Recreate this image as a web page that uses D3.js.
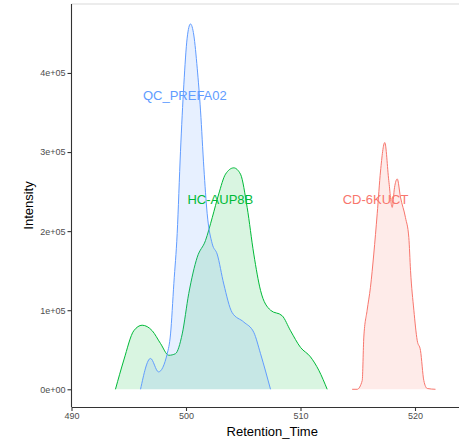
<!DOCTYPE html>
<html>
<head>
<meta charset="utf-8">
<script src="https://cdn.jsdelivr.net/npm/d3@7"></script>
<style>
  body { margin: 0; background: #fff; }
  text { font-family: "Liberation Sans", Arial, sans-serif; }
</style>
</head>
<body>
<script>
// Data (Retention_Time, Intensity)
const samples = ["CD-6KUCT", "HC-AUP8B", "QC_PREFA02"];
const colors = ["#F8766D", "#00BA38", "#619CFF"];

const cdTime = [514.51, 514.95, 515.39, 515.53, 515.82, 516.11, 516.40, 516.70, 516.99, 517.36, 517.71, 518.01, 518.21, 518.45, 518.73, 519.17, 519.46, 519.61, 519.90, 520.19, 520.48, 520.77, 521.07, 521.79];
const cdIntensity = [0, 0, 11000, 66000, 100000, 129000, 171000, 222000, 276000, 312000, 264000, 230000, 255000, 266000, 243000, 217000, 192000, 150000, 100000, 62000, 49000, 11000, 1000, 0];

const hcTime = [493.84, 494.57, 495.44, 496.17, 497.05, 497.77, 498.50, 499.08, 499.67, 500.24, 500.98, 501.70, 502.29, 502.86, 503.45, 504.17, 504.76, 505.34, 505.92, 506.51, 507.38, 508.40, 509.13, 510.00, 510.87, 511.60, 512.33];
const hcIntensity = [0, 37000, 74000, 81000, 74000, 58000, 43000, 45000, 70000, 121000, 167000, 188000, 217000, 247000, 272000, 280000, 272000, 230000, 171000, 125000, 100000, 93000, 74000, 53000, 41000, 24000, 0];

const qcTime = [496.03, 496.90, 497.60, 498.36, 498.65, 498.94, 499.23, 499.52, 499.81, 500.10, 500.39, 500.68, 500.98, 501.27, 501.56, 501.85, 502.29, 502.72, 503.30, 504.03, 505.05, 505.92, 506.51, 507.38];
const qcIntensity = [0, 39000, 22000, 45000, 70000, 134000, 197000, 301000, 385000, 444000, 462000, 448000, 406000, 352000, 280000, 222000, 184000, 171000, 133000, 97000, 85000, 72000, 45000, 0];

// label positions (data units)
const labelTime = [516.55, 503.0, 499.9];
const labelIntensity = [240000, 240000, 372000];

const xTicks = [490, 500, 510, 520];
const yTicks = [0, 100000, 200000, 300000, 400000];

const width = 459, height = 441;
const panel = { left: 71.5, right: 459, top: 4, bottom: 407 };

const svg = d3.select("body").append("svg")
  .attr("width", width)
  .attr("height", height);

const x = d3.scaleLinear()
  .domain([490, 490 + (panel.right - panel.left) / 11.45])
  .range([panel.left, panel.right]);
const y = d3.scaleLinear()
  .domain([-22400, 487200])
  .range([panel.bottom, panel.top]);

const series = [
  cdTime.map((t, i) => ({ t, v: cdIntensity[i] })),
  hcTime.map((t, i) => ({ t, v: hcIntensity[i] })),
  qcTime.map((t, i) => ({ t, v: qcIntensity[i] }))
];

// top border of the plot
svg.append("line")
  .attr("x1", panel.left).attr("x2", panel.right)
  .attr("y1", panel.top).attr("y2", panel.top)
  .attr("stroke", "#e6e6e6")
  .attr("stroke-width", 1.5);

const area = d3.area()
  .x(d => x(d.t))
  .y0(y(0))
  .y1(d => y(d.v))
  .curve(d3.curveMonotoneX);

const line = d3.line()
  .x(d => x(d.t))
  .y(d => y(d.v))
  .curve(d3.curveMonotoneX);

series.forEach((s, i) => {
  svg.append("path")
    .datum(s)
    .attr("d", area)
    .attr("fill", colors[i])
    .attr("fill-opacity", 0.15);
  svg.append("path")
    .datum(s)
    .attr("d", line)
    .attr("fill", "none")
    .attr("stroke", colors[i])
    .attr("stroke-width", 1);
});

// labels
svg.selectAll(".lab")
  .data(samples)
  .enter().append("text")
  .attr("class", "lab")
  .attr("x", (d, i) => x(labelTime[i]))
  .attr("y", (d, i) => y(labelIntensity[i]))
  .attr("dy", "0.35em")
  .attr("text-anchor", "middle")
  .attr("font-size", 13)
  .attr("fill", (d, i) => colors[i])
  .text(d => d);

// axes
const xAxis = d3.axisBottom(x).tickValues(xTicks).tickSize(4).tickPadding(2).tickSizeOuter(0);
const yAxis = d3.axisLeft(y).tickValues(yTicks).tickSize(4).tickPadding(2).tickSizeOuter(0)
  .tickFormat(d => d3.format(".0e")(d).replace("e+", "e+0").replace("e+00", "e+00"));

const gx = svg.append("g")
  .attr("transform", "translate(0," + panel.bottom + ")")
  .call(xAxis);
const gy = svg.append("g")
  .attr("transform", "translate(" + panel.left + ",0)")
  .call(yAxis);

[gx, gy].forEach(g => {
  g.select(".domain").attr("stroke", "#333").attr("stroke-width", 1.1);
  g.selectAll(".tick line").attr("stroke", "#333").attr("stroke-width", 1.1);
  g.selectAll(".tick text")
    .attr("fill", "#4D4D4D")
    .attr("font-size", 9)
    .attr("font-family", "Liberation Sans, Arial, sans-serif");
});
gy.select(".domain").attr("d", "M0," + panel.bottom + "V" + panel.top);

// axis titles
svg.append("text")
  .attr("x", (panel.left + panel.right) / 2 + 7)
  .attr("y", 435.5)
  .attr("text-anchor", "middle")
  .attr("font-size", 13)
  .attr("fill", "#000")
  .text("Retention_Time");

svg.append("text")
  .attr("transform", "translate(33," + ((panel.top + panel.bottom) / 2) + ") rotate(-90)")
  .attr("text-anchor", "middle")
  .attr("font-size", 13)
  .attr("fill", "#000")
  .text("Intensity");
</script>
</body>
</html>
